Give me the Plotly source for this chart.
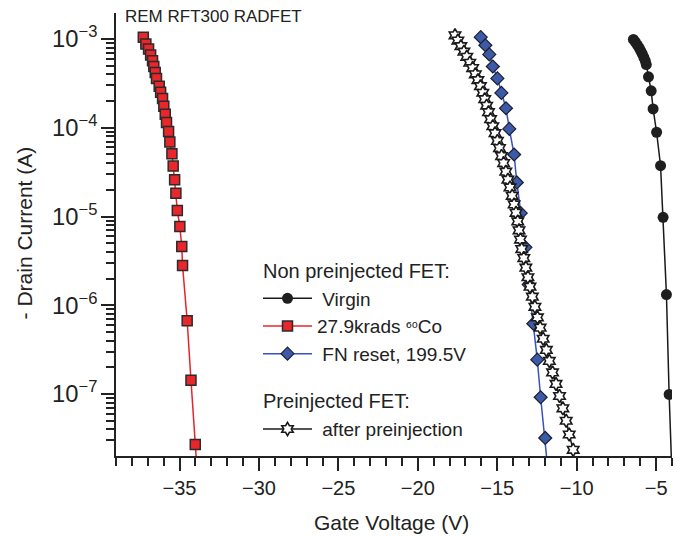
import plotly.graph_objects as go

# ---------------- data (Gate Voltage in V, -Drain Current in A) ----------------
virgin_v = [-6.43, -6.31, -6.18, -6.06, -5.96, -5.87, -5.77, -5.68, -5.62,
            -5.48, -5.31, -5.19, -4.97, -4.72, -4.56, -4.35, -4.18, -4.02]
virgin_i = [9.9e-4, 9.25e-4, 8.55e-4, 7.9e-4, 7.3e-4, 6.8e-4, 6.2e-4, 5.65e-4, 5.15e-4,
            3.75e-4, 2.61e-4, 1.63e-4, 8.9e-5, 3.74e-5, 9.8e-6, 1.32e-6, 9.9e-8, 1.5e-8]

co60_v = [-37.28, -37.12, -36.95, -36.82, -36.70, -36.62, -36.53, -36.45, -36.28,
          -36.19, -36.07, -35.99, -35.90, -35.82, -35.69, -35.61, -35.48, -35.40,
          -35.31, -35.23, -35.14, -34.98, -34.86, -34.81, -34.52, -34.28, -34.01, -33.91]
co60_i = [1.05e-3, 8.8e-4, 7.7e-4, 6.6e-4, 5.7e-4, 4.9e-4, 4.2e-4, 3.6e-4, 2.94e-4,
          2.52e-4, 2.14e-4, 1.75e-4, 1.42e-4, 1.15e-4, 9.1e-5, 6.9e-5, 5.1e-5, 3.7e-5,
          2.6e-5, 1.83e-5, 1.17e-5, 7.7e-6, 4.6e-6, 2.8e-6, 6.7e-7, 1.43e-7, 2.7e-8, 1.5e-8]

fn_v = [-16.04, -15.75, -15.50, -15.28, -14.99, -14.74, -14.45, -14.24, -13.94,
        -13.77, -13.52, -13.23, -13.02, -12.73, -12.48, -12.27, -11.98, -11.83]
fn_i = [1.05e-3, 8.5e-4, 6.7e-4, 4.9e-4, 3.6e-4, 2.47e-4, 1.66e-4, 9.7e-5, 5.0e-5,
        2.42e-5, 1.09e-5, 4.5e-6, 1.71e-6, 6.2e-7, 2.44e-7, 9.2e-8, 3.2e-8, 1.5e-8]

pre_v = [-17.66, -17.48, -17.29, -17.10, -16.92, -16.73, -16.55, -16.38, -16.22,
         -16.06, -15.91, -15.79, -15.67, -15.55, -15.42, -15.28, -15.14, -14.99,
         -14.86, -14.73, -14.60, -14.46, -14.33, -14.20, -14.06, -13.94, -13.82,
         -13.71, -13.63, -13.54, -13.46, -13.33, -13.20, -13.07, -12.94, -12.79,
         -12.63, -12.47, -12.30, -12.11, -11.91, -11.72, -11.52, -11.30, -11.08,
         -10.87, -10.66, -10.47, -10.22]
pre_i = [1.10e-3, 9.6e-4, 8.3e-4, 7.2e-4, 6.3e-4, 5.4e-4, 4.7e-4, 4.0e-4, 3.44e-4,
         2.94e-4, 2.48e-4, 2.10e-4, 1.77e-4, 1.50e-4, 1.25e-4, 1.04e-4, 8.7e-5, 7.1e-5,
         5.9e-5, 4.8e-5, 4.0e-5, 3.2e-5, 2.6e-5, 2.13e-5, 1.71e-5, 1.37e-5, 1.10e-5,
         8.8e-6, 7.0e-6, 5.5e-6, 4.3e-6, 3.4e-6, 2.65e-6, 2.07e-6, 1.62e-6, 1.25e-6,
         9.6e-7, 7.3e-7, 5.6e-7, 4.2e-7, 3.14e-7, 2.36e-7, 1.75e-7, 1.30e-7, 9.5e-8,
         6.9e-8, 5.0e-8, 3.5e-8, 2.35e-8]

names = ["\u00a0Virgin",
         "27.9krads <span style=\"font-family:'DejaVu Sans';font-size:15px\">\u2076\u2070</span>Co",
         "\u00a0FN reset, 199.5V", "\u00a0after preinjection"]
group_titles = ["Non preinjected FET:", "Preinjected FET:"]
chart_title = "REM RFT300 RADFET"
x_title = "Gate Voltage (V)"
y_title = "- Drain Current (A)"

FONT = "Liberation Sans, Arial, Helvetica, sans-serif"
TXT = "#222222"

fig = go.Figure()

fig.add_trace(go.Scatter(
    x=virgin_v, y=virgin_i, mode="lines+markers", name=names[0], legend="legend",
    legendgroup="non", legendgrouptitle=dict(text=group_titles[0], font=dict(size=20, color=TXT)),
    line=dict(color="#1a1a1a", width=1.5),
    marker=dict(symbol="circle", size=11, color="#1f1f1f", line=dict(width=0))))

fig.add_trace(go.Scatter(
    x=co60_v, y=co60_i, mode="lines+markers", name=names[1], legendgroup="non", legend="legend",
    line=dict(color="#e8242b", width=1.5),
    marker=dict(symbol="square", size=10, color="#e8262b", line=dict(color="#2b2b2b", width=1.5))))

fig.add_trace(go.Scatter(
    x=fn_v, y=fn_i, mode="lines+markers", name=names[2], legendgroup="non", legend="legend",
    line=dict(color="#3652c0", width=1.5),
    marker=dict(symbol="diamond", size=10, color="#3c5aa8", line=dict(color="#1d2030", width=1.2))))

fig.add_trace(go.Scatter(
    x=pre_v, y=pre_i, mode="lines+markers", name=names[3], legend="legend2",
    legendgroup="pre", legendgrouptitle=dict(text=group_titles[1], font=dict(size=20, color=TXT)),
    line=dict(color="#1a1a1a", width=1.5),
    marker=dict(symbol="hexagram", size=10, color="white", line=dict(color="#1a1a1a", width=1.6))))

legend_common = dict(xanchor="left", yanchor="top", bgcolor="rgba(0,0,0,0)",
                     font=dict(size=19, color=TXT), traceorder="grouped", itemwidth=49)

fig.update_layout(
    width=684, height=536,
    margin=dict(l=116, r=12, t=13, b=80, autoexpand=False),
    paper_bgcolor="white", plot_bgcolor="white",
    font=dict(family=FONT, size=20, color=TXT),
    showlegend=True,
    legend=dict(x=0.2554, y=0.464, **legend_common),
    legend2=dict(x=0.2554, y=0.169, **legend_common),
    annotations=[
        dict(text=chart_title, xref="paper", yref="paper", x=0.013, y=0.992,
             xanchor="left", yanchor="middle", showarrow=False, font=dict(size=17, color=TXT)),
        dict(text=x_title, xref="paper", yref="paper", x=0.495, y=-0.149,
             xanchor="center", yanchor="middle", showarrow=False, font=dict(size=21, color=TXT)),
        dict(text=y_title, xref="paper", yref="paper", x=-0.165, y=0.503, textangle=-90,
             xanchor="center", yanchor="middle", showarrow=False, font=dict(size=21, color=TXT)),
    ],
)

fig.update_xaxes(
    range=[-39, -4], tick0=0, dtick=5, ticks="outside", ticklen=13, tickwidth=1.5,
    tickcolor="#222", showline=True, linecolor="#222", linewidth=1.5, automargin=False,
    showgrid=False, zeroline=False, tickfont=dict(size=20),
    minor=dict(ticks="outside", ticklen=8, tickwidth=1.5, tickcolor="#222", dtick=1, showgrid=False))

fig.update_yaxes(
    type="log", range=[-7.698, -2.707], dtick=1, exponentformat="power", automargin=False,
    ticks="outside", ticklen=13, tickwidth=1.5, tickcolor="#222",
    showline=True, linecolor="#222", linewidth=1.5,
    showgrid=False, zeroline=False, tickfont=dict(size=19),
    minor=dict(ticks="outside", ticklen=8, tickwidth=1.5, tickcolor="#222", dtick="D1", showgrid=False))

fig.write_html("out.html")
